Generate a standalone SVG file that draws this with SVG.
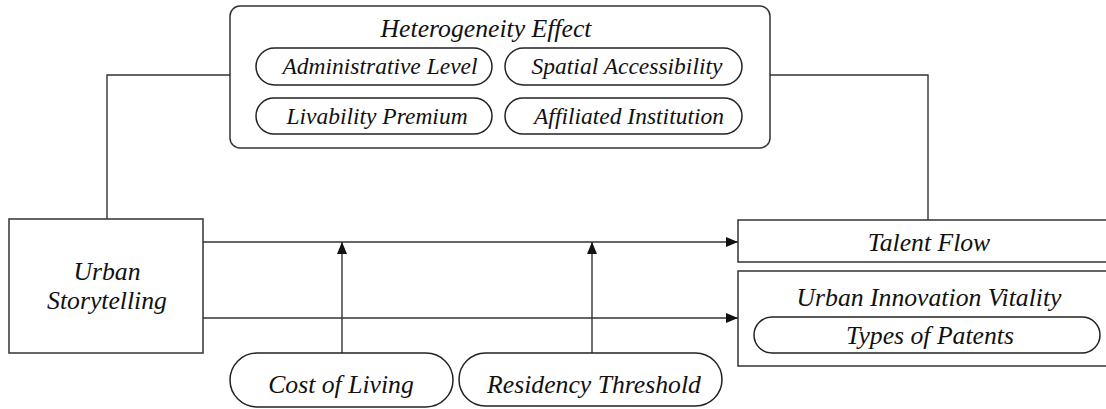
<svg xmlns="http://www.w3.org/2000/svg" width="1106" height="409" viewBox="0 0 1106 409">
<defs>
<marker id="arr" viewBox="0 0 12 10" refX="12" refY="5" markerWidth="12" markerHeight="10" markerUnits="userSpaceOnUse" orient="auto">
<path d="M0,0 L12,5 L0,10 Z" fill="#111"/>
</marker>
<style>
.box{fill:#fff;stroke:#333;stroke-width:1.5}
.pill{fill:#fff;stroke:#222;stroke-width:1.5}
.ln{fill:none;stroke:#333;stroke-width:1.4}
.t{font-family:"Liberation Serif","Times New Roman",serif;font-style:italic;font-size:23.5px;fill:#111;text-anchor:middle}
.tb{font-size:25.7px}
</style>
</defs>
<rect width="1106" height="409" fill="#fff"/>
<g id="connectors">
<polyline class="ln" points="107,219 107,75 230,75"/>
<polyline class="ln" points="770,75 928,75 928,220"/>
<line class="ln" x1="203" y1="242" x2="738" y2="242" marker-end="url(#arr)"/>
<line class="ln" x1="203" y1="318" x2="738" y2="318" marker-end="url(#arr)"/>
<line class="ln" x1="342" y1="353" x2="342" y2="242" marker-end="url(#arr)"/>
<line class="ln" x1="592" y1="353" x2="592" y2="242" marker-end="url(#arr)"/>
</g>
<g id="heterogeneity">
<rect class="box" x="230" y="6" width="540" height="142" rx="10" stroke-width="2"/>
<text class="t tb" x="486" y="37">Heterogeneity Effect</text>
</g>
<g id="admin">
<rect class="pill" x="256" y="48" width="236" height="37" rx="18.5"/>
<text class="t" x="380" y="74">Administrative Level</text>
</g>
<g id="spatial">
<rect class="pill" x="505" y="48" width="237" height="37" rx="18.5"/>
<text class="t" x="627" y="74">Spatial Accessibility</text>
</g>
<g id="livability">
<rect class="pill" x="256" y="98" width="236" height="36" rx="18"/>
<text class="t" x="377" y="124">Livability Premium</text>
</g>
<g id="affiliated">
<rect class="pill" x="505" y="98" width="237" height="36" rx="18"/>
<text class="t" x="629" y="124">Affiliated Institution</text>
</g>
<g id="urban-storytelling">
<rect class="box" x="9" y="219" width="194" height="134"/>
<text class="t tb" x="107" y="280">Urban</text>
<text class="t tb" x="107" y="309">Storytelling</text>
</g>
<g id="talent-flow">
<rect class="box" x="738" y="220" width="382" height="42"/>
<text class="t tb" x="929" y="251">Talent Flow</text>
</g>
<g id="innovation">
<rect class="box" x="738" y="271" width="382" height="95"/>
<text class="t tb" x="929" y="306">Urban Innovation Vitality</text>
</g>
<g id="patents">
<rect class="pill" x="754" y="317" width="346" height="36" rx="18"/>
<text class="t tb" x="930" y="344">Types of Patents</text>
</g>
<g id="cost">
<rect class="pill" x="230" y="353" width="223" height="54" rx="27"/>
<text class="t tb" x="341" y="393">Cost of Living</text>
</g>
<g id="residency">
<rect class="pill" x="459" y="353" width="263" height="53" rx="26.5"/>
<text class="t tb" x="594" y="393">Residency Threshold</text>
</g>
</svg>
